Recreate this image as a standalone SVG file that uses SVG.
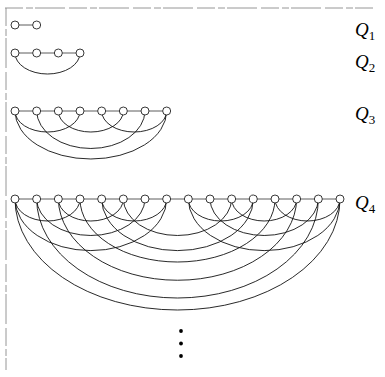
<svg xmlns="http://www.w3.org/2000/svg" width="385" height="377" viewBox="0 0 385 377">
<style>
.frame{stroke:#8a8a8a;stroke-width:0.9;fill:none;stroke-dasharray:18 3 7 2 30 4}
.e{stroke:#333;stroke-width:0.8;fill:none}
.a{stroke:#111;stroke-width:0.9;fill:none}
.n{fill:#fff;stroke:#222;stroke-width:0.9}
.lbl{font-family:"Liberation Serif","Times New Roman",serif;font-size:19px;font-style:italic;fill:#000}
.sub{font-style:normal;font-size:13px}
.dot{fill:#000}
</style>
<rect width="385" height="377" fill="#fff"/>
<g id="frame">
<line class="frame" x1="5" y1="8" x2="373" y2="8"/>
<line class="frame" x1="6" y1="8" x2="6" y2="370"/>
</g>
<g id="connectors">
<!-- Q1 -->
<line class="e" x1="15" y1="25" x2="36.67" y2="25"/>
<!-- Q2 -->
<line class="e" x1="15" y1="53" x2="80" y2="53"/>
<path class="a" d="M15 53 a32.5 21 0 0 0 65 0"/>
<!-- Q3 -->
<line class="e" x1="15" y1="111" x2="166.67" y2="111"/>
<path class="a" d="M15 111 a32.5 21 0 0 0 65 0"/>
<path class="a" d="M58.33 111 a32.5 21 0 0 0 65 0"/>
<path class="a" d="M101.67 111 a32.5 21 0 0 0 65 0"/>
<path class="a" d="M36.67 111 a54.17 38 0 0 0 108.33 0"/>
<path class="a" d="M15 111 a75.83 48 0 0 0 151.67 0"/>
<!-- Q4 -->
<line class="e" x1="15" y1="199" x2="340" y2="199"/>
<path class="a" d="M15 199 a32.5 22 0 0 0 65 0"/>
<path class="a" d="M58.33 199 a32.5 22 0 0 0 65 0"/>
<path class="a" d="M101.67 199 a32.5 22 0 0 0 65 0"/>
<path class="a" d="M188.33 199 a32.5 22 0 0 0 65 0"/>
<path class="a" d="M231.67 199 a32.5 22 0 0 0 65 0"/>
<path class="a" d="M275 199 a32.5 22 0 0 0 65 0"/>
<path class="a" d="M36.67 199 a54.17 37 0 0 0 108.33 0"/>
<path class="a" d="M123.33 199 a54.17 37 0 0 0 108.33 0"/>
<path class="a" d="M210 199 a54.17 37 0 0 0 108.33 0"/>
<path class="a" d="M15 199 a75.83 51.6 0 0 0 151.67 0"/>
<path class="a" d="M101.67 199 a75.83 51.6 0 0 0 151.67 0"/>
<path class="a" d="M188.33 199 a75.83 51.6 0 0 0 151.67 0"/>
<path class="a" d="M80 199 a97.5 63 0 0 0 195 0"/>
<path class="a" d="M58.33 199 a119.17 82 0 0 0 238.33 0"/>
<path class="a" d="M36.67 199 a140.83 99 0 0 0 281.67 0"/>
<path class="a" d="M15 199 a162.5 111 0 0 0 325 0"/>
</g>
<g id="Q1">
<circle class="n" cx="15" cy="25" r="4"/>
<circle class="n" cx="36.67" cy="25" r="4"/>
<text class="lbl" x="355" y="36">Q<tspan class="sub" dy="4">1</tspan></text>
</g>
<g id="Q2">
<circle class="n" cx="15" cy="53" r="4"/>
<circle class="n" cx="36.67" cy="53" r="4"/>
<circle class="n" cx="58.33" cy="53" r="4"/>
<circle class="n" cx="80" cy="53" r="4"/>
<text class="lbl" x="355" y="68">Q<tspan class="sub" dy="4">2</tspan></text>
</g>
<g id="Q3">
<circle class="n" cx="15" cy="111" r="4"/>
<circle class="n" cx="36.67" cy="111" r="4"/>
<circle class="n" cx="58.33" cy="111" r="4"/>
<circle class="n" cx="80" cy="111" r="4"/>
<circle class="n" cx="101.67" cy="111" r="4"/>
<circle class="n" cx="123.33" cy="111" r="4"/>
<circle class="n" cx="145" cy="111" r="4"/>
<circle class="n" cx="166.67" cy="111" r="4"/>
<text class="lbl" x="355" y="120">Q<tspan class="sub" dy="4">3</tspan></text>
</g>
<g id="Q4">
<circle class="n" cx="15" cy="199" r="4"/>
<circle class="n" cx="36.67" cy="199" r="4"/>
<circle class="n" cx="58.33" cy="199" r="4"/>
<circle class="n" cx="80" cy="199" r="4"/>
<circle class="n" cx="101.67" cy="199" r="4"/>
<circle class="n" cx="123.33" cy="199" r="4"/>
<circle class="n" cx="145" cy="199" r="4"/>
<circle class="n" cx="166.67" cy="199" r="4"/>
<circle class="n" cx="188.33" cy="199" r="4"/>
<circle class="n" cx="210" cy="199" r="4"/>
<circle class="n" cx="231.67" cy="199" r="4"/>
<circle class="n" cx="253.33" cy="199" r="4"/>
<circle class="n" cx="275" cy="199" r="4"/>
<circle class="n" cx="296.67" cy="199" r="4"/>
<circle class="n" cx="318.33" cy="199" r="4"/>
<circle class="n" cx="340" cy="199" r="4"/>
<text class="lbl" x="355" y="209">Q<tspan class="sub" dy="4">4</tspan></text>
</g>
<g id="dots">
<circle class="dot" cx="181" cy="331" r="1.9"/>
<circle class="dot" cx="181" cy="343.5" r="1.9"/>
<circle class="dot" cx="181" cy="356" r="1.9"/>
</g>
</svg>
